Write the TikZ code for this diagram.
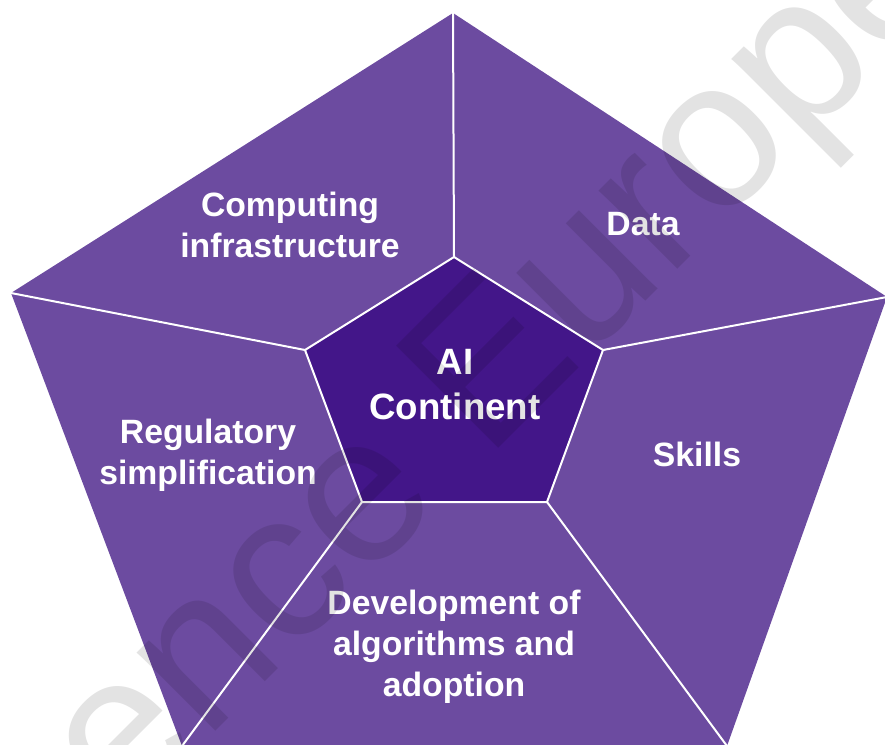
\documentclass[tikz,border=0pt]{standalone}
\usepackage{fontspec}
\setmainfont{Liberation Sans}
\usetikzlibrary{positioning}
\definecolor{sectorpurple}{HTML}{6C4BA0}
\definecolor{corepurple}{HTML}{431689}
\begin{document}
\begin{tikzpicture}[x=0.75pt, y=-0.75pt,
  divider/.style={draw=white, line width=1.5pt},
  sectortext/.style={text=white, align=center,
    font=\fontsize{25.3}{30.75}\selectfont\bfseries},
  coretext/.style={text=white, align=center,
    font=\fontsize{27.5}{33.75}\selectfont\bfseries},
  watermark/.style={text=black, text opacity=0.11, rotate=45, anchor=base west,
    font=\fontsize{157.5}{160}\selectfont}]
    \clip (0,0) rectangle (885,744);
    \coordinate (otop) at (453,13);
    \coordinate (oright) at (887,297);
    \coordinate (obright) at (727,746);
    \coordinate (obleft) at (182,746);
    \coordinate (oleft) at (11,293);
    \coordinate (itop) at (454,257);
    \coordinate (iright) at (603,350);
    \coordinate (ibright) at (547,502);
    \coordinate (ibleft) at (362,502);
    \coordinate (ileft) at (305,350);
    \fill[sectorpurple] (otop) -- (oright) -- (obright) -- (obleft) -- (oleft) -- cycle;
    \filldraw[fill=corepurple, divider] (itop) -- (iright) -- (ibright) -- (ibleft) -- (ileft) -- cycle;
    \draw[divider] (itop) -- (otop);
    \draw[divider] (iright) -- (oright);
    \draw[divider] (ibright) -- (obright);
    \draw[divider] (ibleft) -- (obleft);
    \draw[divider] (ileft) -- (oleft);
    \node[sectortext] (computing) at (290,225) {Computing\\infrastructure};
    \node[sectortext] (data) at (643,224) {Data};
    \node[sectortext] (skills) at (697,454) {Skills};
    \node[sectortext] (algorithms) at (454,647) {Development of\\algorithms and\\adoption};
    \node[sectortext] (regulatory) at (208,455) {Regulatory\\simplification};
    \node[coretext] (continent) at (455,385) {AI\\Continent};
    \node[watermark] (mark) at (120,827) {ence Europe};
  \end{tikzpicture}
\end{document}
